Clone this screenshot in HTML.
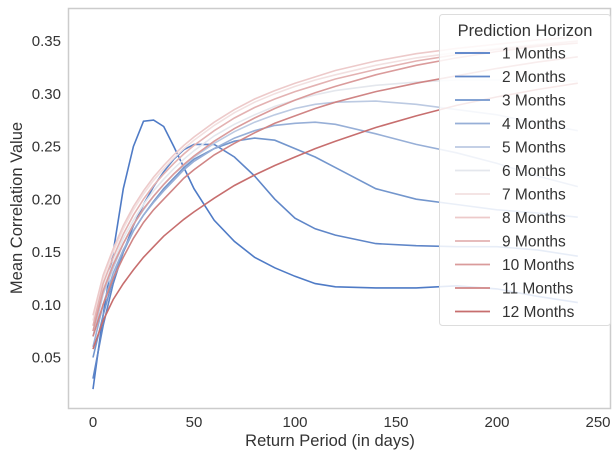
<!DOCTYPE html>
<html><head><meta charset="utf-8"><style>
body{margin:0;background:#fff;}
svg{font-family:"Liberation Sans",sans-serif;}
</style></head><body>
<svg id="chart" width="612" height="453">
<rect x="68.5" y="8.5" width="542" height="400" fill="#fff" stroke="#ccc" stroke-width="1.5"/>
<g id="ticks"></g>
<g id="lines"></g>
<text x="330" y="446" font-size="16.5" fill="#333" text-anchor="middle">Return Period (in days)</text>
<text transform="translate(22,208) rotate(-90)" font-size="16.5" fill="#333" text-anchor="middle">Mean Correlation Value</text>
<g id="legend">
<rect x="439.5" y="14.5" width="171" height="311" rx="3" fill="#fff" fill-opacity="0.85" stroke="#ddd"/>
<text x="525" y="36" font-size="16.5" fill="#333" text-anchor="middle">Prediction Horizon</text>
</g>
</svg>
<script>
const days=[0,5,10,15,20,25,30,35,40,45,50,60,70,80,90,100,110,120,140,160,180,200,220,240];
const labels=["1 Months","2 Months","3 Months","4 Months","5 Months","6 Months","7 Months","8 Months","9 Months","10 Months","11 Months","12 Months"];
const s1=[0.02,0.09,0.15,0.21,0.25,0.274,0.275,0.269,0.25,0.23,0.21,0.18,0.16,0.145,0.135,0.127,0.12,0.117,0.116,0.116,0.118,0.115,0.108,0.102];
const s2=[0.03,0.08,0.12,0.15,0.175,0.195,0.212,0.226,0.238,0.247,0.252,0.252,0.24,0.222,0.2,0.182,0.172,0.166,0.158,0.156,0.155,0.155,0.152,0.146];
const s3=[0.05,0.09,0.125,0.15,0.17,0.185,0.198,0.21,0.22,0.23,0.238,0.248,0.255,0.258,0.256,0.248,0.24,0.23,0.21,0.2,0.195,0.19,0.187,0.183];
const s4=[0.06,0.1,0.13,0.152,0.17,0.185,0.197,0.208,0.218,0.228,0.236,0.248,0.258,0.265,0.27,0.272,0.273,0.271,0.262,0.252,0.244,0.234,0.222,0.212];
const s5=[0.07,0.11,0.135,0.158,0.176,0.19,0.203,0.214,0.224,0.232,0.24,0.253,0.264,0.273,0.28,0.286,0.29,0.292,0.293,0.29,0.285,0.28,0.272,0.265];
const s6=[0.075,0.115,0.14,0.163,0.18,0.195,0.208,0.219,0.229,0.238,0.246,0.26,0.271,0.28,0.288,0.294,0.299,0.303,0.308,0.311,0.313,0.313,0.313,0.312];
const s7=[0.085,0.125,0.15,0.172,0.19,0.205,0.218,0.229,0.239,0.248,0.256,0.27,0.282,0.292,0.3,0.307,0.313,0.318,0.327,0.334,0.339,0.343,0.347,0.35];
const s8=[0.09,0.128,0.153,0.175,0.193,0.208,0.221,0.232,0.242,0.251,0.259,0.273,0.285,0.295,0.303,0.31,0.316,0.322,0.331,0.338,0.343,0.347,0.351,0.354];
const s9=[0.08,0.12,0.145,0.167,0.185,0.2,0.213,0.224,0.234,0.243,0.251,0.265,0.277,0.287,0.295,0.302,0.308,0.314,0.323,0.331,0.337,0.342,0.346,0.35];
const s10=[0.075,0.113,0.138,0.158,0.176,0.191,0.203,0.214,0.224,0.233,0.241,0.255,0.267,0.277,0.286,0.294,0.301,0.307,0.318,0.327,0.334,0.34,0.345,0.348];
const s11=[0.07,0.1,0.125,0.145,0.163,0.178,0.19,0.2,0.21,0.22,0.228,0.242,0.253,0.263,0.272,0.279,0.286,0.292,0.302,0.31,0.317,0.324,0.33,0.335];
const s12=[0.058,0.085,0.105,0.12,0.133,0.145,0.155,0.165,0.173,0.181,0.188,0.201,0.213,0.223,0.232,0.24,0.248,0.255,0.268,0.279,0.289,0.297,0.304,0.31];
const series=[s1,s2,s3,s4,s5,s6,s7,s8,s9,s10,s11,s12];
const xTicks=[0,50,100,150,200,250];
const yTicks=[0.05,0.10,0.15,0.20,0.25,0.30,0.35];
const colors=["#4f7bc6","#5f86c8","#7396cd","#97afd7","#bccae2","#e4e7ed","#f2e0e0","#edcaca","#e3b2b2","#da9b9b","#d08585","#c76e6e"];
const NS="http://www.w3.org/2000/svg";
const xs=d=>93+d*2.02;
const ys=v=>41+(0.35-v)*1055;
const tg=document.getElementById('ticks');
xTicks.forEach(t=>{const e=document.createElementNS(NS,'text');e.setAttribute('x',xs(t));e.setAttribute('y',427);e.setAttribute('font-size','15');e.setAttribute('fill','#333');e.setAttribute('text-anchor','middle');e.textContent=t;


tg.appendChild(e);});
yTicks.forEach(t=>{const e=document.createElementNS(NS,'text');e.setAttribute('x',61);e.setAttribute('y',ys(t)+5);e.setAttribute('font-size','15');e.setAttribute('fill','#333');e.setAttribute('text-anchor','end');e.textContent=t.toFixed(2);


tg.appendChild(e);});
const lg=document.getElementById('lines');
series.forEach((s,i)=>{const p=document.createElementNS(NS,'polyline');p.setAttribute('points',s.map((v,j)=>xs(days[j]).toFixed(1)+','+ys(v).toFixed(1)).join(' '));p.setAttribute('fill','none');p.setAttribute('stroke',colors[i]);p.setAttribute('stroke-width','1.6');


lg.appendChild(p);});
const leg=document.getElementById('legend');
labels.forEach((l,i)=>{const y=53+i*23.5;const ln=document.createElementNS(NS,'line');ln.setAttribute('x1',455);ln.setAttribute('x2',490);ln.setAttribute('y1',y);ln.setAttribute('y2',y);ln.setAttribute('stroke',colors[i]);ln.setAttribute('stroke-width','1.8');


leg.appendChild(ln);
const t=document.createElementNS(NS,'text');t.setAttribute('x',502);t.setAttribute('y',y+5.5);t.setAttribute('font-size','15.5');t.setAttribute('fill','#333');t.textContent=l;


leg.appendChild(t);});
</script>
</body></html>
